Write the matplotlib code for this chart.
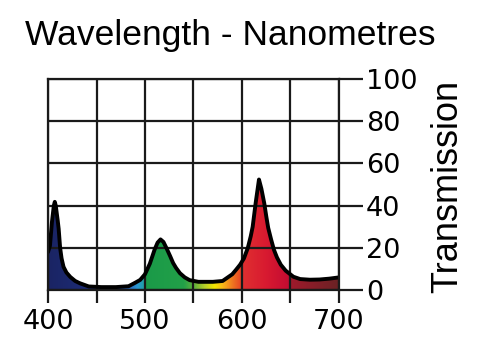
"""Transmission curve of a tri-band filter, spectrum-coloured fill."""

import matplotlib

matplotlib.use("Agg")
import matplotlib.pyplot as plt
import numpy as np
from matplotlib.colors import LinearSegmentedColormap
from matplotlib.patches import Polygon

TITLE = "Wavelength - Nanometres"
Y_LABEL = "Transmission"

# wavelength (nm) and transmission (%)
WAVELENGTH = [
    400, 402, 404, 406, 407, 408, 410, 411, 412.5, 414, 416, 419, 423, 428,
    433, 442, 455, 470, 483, 490, 495, 500, 505, 510, 513, 516, 519, 522,
    526, 529, 532, 536, 541, 546, 555, 570, 580, 590, 594, 598, 602, 606,
    609, 611, 614, 617.5, 620, 623, 625, 627, 630, 633, 636, 640, 645, 653,
    660, 670, 680, 690, 700,
]
TRANSMISSION = [
    18, 21, 32, 40, 41.8, 40, 33, 29, 20, 15, 11, 8.3, 6.2, 4.3,
    3.2, 1.7, 1.4, 1.4, 1.8, 3.5, 4.8, 7.5, 12.5, 19.3, 22.5, 24, 22.8, 20,
    16, 12.8, 10.5, 8, 6, 4.7, 3.9, 3.9, 4.3, 7.5, 9.7, 12, 15, 20,
    25.5, 30, 41, 52.4, 48, 41, 35, 29.5, 24, 19, 15.5, 12, 9.2, 6.3,
    5.2, 4.9, 5, 5.4, 6,
]

X_MAJOR = [400, 500, 600, 700]
X_MINOR = [450, 550, 650]
Y_TICKS = [0, 20, 40, 60, 80, 100]

# spectrum colours of the fill, keyed by wavelength
SPECTRUM = [
    (400, "#1a2463"), (440, "#1d2c76"), (470, "#22409a"), (485, "#2b6fc0"),
    (492, "#2a98d2"), (499.5, "#1fa2a0"), (500, "#1a9a48"), (540, "#22a048"),
    (552, "#6ab43a"), (562, "#b8d028"), (572, "#f4e600"), (580, "#f8b818"),
    (590, "#f07820"), (598, "#e84a24"), (600, "#e03030"), (625, "#d81a30"),
    (648, "#c40c32"), (650, "#a01a2c"), (700, "#6a2224"),
]

LABEL_FONT = "Liberation Sans"
TICK_FONT = "DejaVu Sans"


def spectrum_cmap() -> LinearSegmentedColormap:
    lo, hi = SPECTRUM[0][0], SPECTRUM[-1][0]
    stops = [((wl - lo) / (hi - lo), c) for wl, c in SPECTRUM]
    return LinearSegmentedColormap.from_list("spectrum", stops, N=1024)


def main() -> None:
    fig = plt.figure(figsize=(5.0, 3.52), dpi=100)
    ax = fig.add_axes([0.096, 0.176, 0.582, 0.5994])

    # gradient image, clipped to the area under the curve
    grid_x = np.linspace(400, 700, 900)
    im = ax.imshow(
        np.vstack([grid_x, grid_x]),
        extent=[400, 700, 0, 100],
        aspect="auto",
        origin="lower",
        cmap=spectrum_cmap(),
        vmin=400,
        vmax=700,
        zorder=0,
    )
    verts = [(400, 0)] + list(zip(WAVELENGTH, TRANSMISSION)) + [(700, 0)]
    clip = Polygon(verts, closed=True, facecolor="none", edgecolor="none")
    ax.add_patch(clip)
    im.set_clip_path(clip)

    ax.plot(
        WAVELENGTH, TRANSMISSION, color="black", lw=2.8,
        solid_joinstyle="round", solid_capstyle="round", zorder=4,
    )

    ax.set_xlim(400, 700)
    ax.set_ylim(0, 100)
    ax.set_xticks(X_MAJOR)
    ax.set_xticks(X_MINOR, minor=True)
    ax.set_yticks(Y_TICKS)
    ax.yaxis.tick_right()

    ax.set_axisbelow(False)
    ax.grid(True, which="both", axis="x", color="#1a1a1a", lw=1.6)
    ax.grid(True, which="major", axis="y", color="#1a1a1a", lw=1.6)
    for spine in ax.spines.values():
        spine.set_linewidth(1.6)
        spine.set_color("#1a1a1a")
        spine.set_zorder(5)

    ax.tick_params(axis="x", which="both", length=9.4, width=1.6,
                   direction="out", color="#1a1a1a", pad=4)
    ax.tick_params(axis="y", which="both", length=17, width=1.6,
                   direction="out", color="#1a1a1a", pad=2.5)
    for label in ax.get_xticklabels() + ax.get_yticklabels():
        label.set_fontfamily(TICK_FONT)
        label.set_fontsize(19.5)

    fig.text(0.05, 1 - 45 / 352, TITLE, family=LABEL_FONT, fontsize=25.5,
             ha="left", va="baseline")
    fig.text(448 / 500, 1 - 186 / 352, Y_LABEL, family=LABEL_FONT,
             fontsize=26, rotation=90, ha="center", va="center")

    fig.savefig("out.png", dpi=100)
    plt.close(fig)


if __name__ == "__main__":
    main()
